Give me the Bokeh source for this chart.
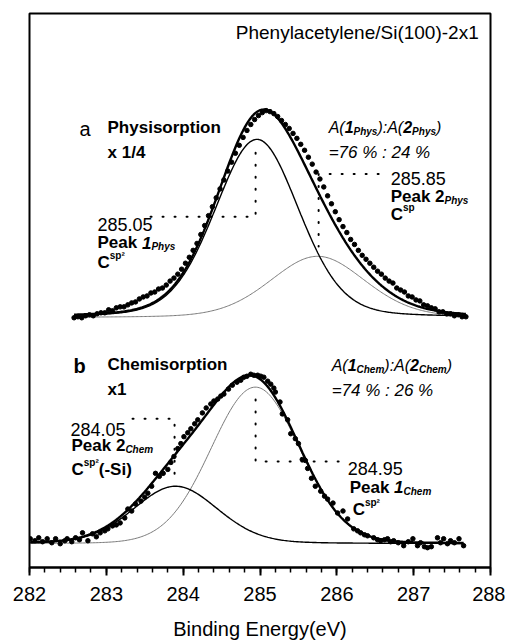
import numpy as np
from bokeh.plotting import figure
from bokeh.models import Range1d, Label, FixedTicker
from bokeh.embed import file_html
from bokeh.resources import INLINE

# ---------------- data ----------------
# Panel a: Physisorption (x 1/4), intensity above its own baseline (arb. units)
a_be = [282.58, 282.63, 282.68, 282.73, 282.78, 282.83, 282.88, 282.93, 282.98, 283.03,
        283.08, 283.13, 283.18, 283.23, 283.28, 283.33, 283.38, 283.43, 283.48, 283.53,
        283.58, 283.63, 283.68, 283.73, 283.78, 283.83, 283.88, 283.93, 283.98, 284.03,
        284.08, 284.13, 284.18, 284.23, 284.28, 284.33, 284.38, 284.43, 284.48, 284.53,
        284.58, 284.63, 284.68, 284.73, 284.78, 284.83, 284.88, 284.93, 284.98, 285.03,
        285.08, 285.13, 285.18, 285.23, 285.28, 285.33, 285.38, 285.43, 285.48, 285.53,
        285.58, 285.63, 285.68, 285.73, 285.78, 285.83, 285.88, 285.93, 285.98, 286.03,
        286.08, 286.13, 286.18, 286.23, 286.28, 286.33, 286.38, 286.43, 286.48, 286.53,
        286.58, 286.63, 286.68, 286.73, 286.78, 286.83, 286.88, 286.93, 286.98, 287.03,
        287.08, 287.13, 287.18, 287.23, 287.28, 287.33, 287.38, 287.43, 287.48, 287.53,
        287.58, 287.63, 287.68]
a_cnt = [0, 1, 0, 2, 3, 2, 4, 5, 5, 8,
         7, 10, 11, 11, 13, 15, 16, 19, 21, 22,
         25, 26, 29, 30, 33, 37, 40, 44, 49, 55,
         61, 68, 75, 84, 93, 103, 112, 121, 130, 139,
         148, 157, 166, 174, 182, 189, 195, 200, 204, 207,
         209, 208, 206, 203, 199, 195, 191, 186, 181, 175,
         169, 162, 155, 147, 140, 132, 123, 115, 107, 99,
         92, 86, 79, 74, 68, 63, 59, 55, 51, 47,
         44, 40, 37, 35, 30, 28, 26, 22, 21, 18,
         17, 13, 12, 10, 9, 6, 6, 4, 4, 2,
         3, 1, 1]

# Panel b: Chemisorption (x1)
b_be = [282.01, 282.07, 282.12, 282.17, 282.23, 282.29, 282.34, 282.40, 282.46, 282.49,
        282.55, 282.60, 282.65, 282.69, 282.76, 282.82, 282.87, 282.92, 282.98, 283.02,
        283.08, 283.13, 283.18, 283.24, 283.28, 283.33, 283.38, 283.45, 283.50, 283.54,
        283.59, 283.64, 283.69, 283.74, 283.80, 283.84, 283.88, 283.93, 283.97, 284.01,
        284.06, 284.10, 284.15, 284.19, 284.25, 284.30, 284.36, 284.40, 284.45, 284.49,
        284.53, 284.59, 284.64, 284.70, 284.75, 284.79, 284.83, 284.88, 284.92, 284.97,
        285.01, 285.05, 285.10, 285.14, 285.18, 285.20, 285.26, 285.29, 285.36, 285.40,
        285.46, 285.50, 285.55, 285.59, 285.62, 285.67, 285.72, 285.79, 285.84, 285.88,
        285.95, 286.01, 286.08, 286.14, 286.22, 286.27, 286.31, 286.36, 286.40, 286.48,
        286.53, 286.57, 286.62, 286.66, 286.70, 286.74, 286.80, 286.87, 286.93, 286.99,
        287.05, 287.09, 287.14, 287.18, 287.23, 287.31, 287.35, 287.39, 287.44, 287.48,
        287.53, 287.59, 287.65]
b_cnt = [5, 3, 6, 2, 5, 1, 5, 0, 3, 5,
         2, 6, 4, 11, 3, 10, 7, 11, 13, 15,
         18, 19, 21, 26, 35, 33, 40, 43, 47, 51,
         58, 71, 68, 71, 75, 82, 88, 96, 101, 108,
         112, 116, 121, 125, 132, 137, 141, 144, 146, 149,
         151, 156, 160, 163, 165, 168, 169, 171, 170, 170,
         169, 168, 164, 161, 157, 153, 143, 131, 125, 111,
         106, 101, 85, 84, 76, 66, 58, 53, 48, 45,
         41, 31, 33, 25, 15, 13, 11, 9, 8, 6,
         4, 3, 4, 5, 2, 3, 1, -2, 2, 5,
         -2, 1, -3, -4, -3, 6, 1, 5, 0, 3,
         1, 5, -2]

# vertical offsets of the two stacked spectra
a_offset = 252
b_offset = 24

# fitted components: (center eV, height, sigma eV, lorentz fraction)
a_peak1 = (284.96, 180, 0.55, 0.2)   # Peak 1 Phys  (black thin)
a_peak2 = (285.75, 62, 0.62, 0.2)    # Peak 2 Phys  (grey)
b_peak1 = (284.94, 158, 0.58, 0.05)  # Peak 1 Chem  (grey)
b_peak2 = (283.90, 58, 0.55, 0.15)   # Peak 2 Chem  (black thin)

x_ticks = [282, 283, 284, 285, 286, 287, 288]

FONT = "Liberation Sans"

# ---------------- figure ----------------
p = figure(width=505, height=642, output_backend="svg", toolbar_location=None,
           x_range=Range1d(282, 288), y_range=Range1d(0, 559),
           min_border_left=29, min_border_right=15, min_border_top=13, min_border_bottom=70)
p.background_fill_color = "white"
p.border_fill_color = "white"
p.outline_line_color = "black"
p.outline_line_width = 2
p.outline_line_alpha = 1
p.xgrid.visible = False
p.ygrid.visible = False
p.yaxis.visible = False

minor = [round(282 + 0.2 * i, 1) for i in range(31)]
p.xaxis.ticker = FixedTicker(ticks=x_ticks, minor_ticks=minor)
p.xaxis.axis_line_width = 2
p.xaxis.major_tick_line_width = 2
p.xaxis.minor_tick_line_width = 1.5
p.xaxis.major_tick_out = 8
p.xaxis.major_tick_in = 0
p.xaxis.minor_tick_out = 5
p.xaxis.minor_tick_in = 0
p.xaxis.major_label_text_font = FONT
p.xaxis.major_label_text_font_size = "20px"
p.xaxis.major_label_text_color = "black"
p.xaxis.major_label_standoff = 11
p.xaxis.axis_label = "Binding Energy(eV)"
p.xaxis.axis_label_text_font = FONT
p.xaxis.axis_label_text_font_size = "20px"
p.xaxis.axis_label_text_font_style = "normal"
p.xaxis.axis_label_text_color = "black"
p.xaxis.axis_label_standoff = 14


def comp(xs, pk):
    c, h, s, eta = pk
    hw = s * np.sqrt(2 * np.log(2))
    g = np.exp(-0.5 * ((xs - c) / s) ** 2)
    lz = 1.0 / (1.0 + ((xs - c) / hw) ** 2)
    return h * ((1 - eta) * g + eta * lz)


xa = np.linspace(min(a_be), max(a_be), 300)
a1 = comp(xa, a_peak1)
a2 = comp(xa, a_peak2)
p.line(xa, a_offset + a2, line_color="#7a7a7a", line_width=1)
p.line(xa, a_offset + a1, line_color="black", line_width=1.4)
p.line(xa, a_offset + a1 + a2, line_color="black", line_width=2.4)
p.scatter(a_be, [a_offset + v for v in a_cnt], size=4.5, color="black")

xb = np.linspace(min(b_be), max(b_be), 300)
b1 = comp(xb, b_peak1)
b2 = comp(xb, b_peak2)
p.line(xb, b_offset + b1, line_color="#7a7a7a", line_width=1)
p.line(xb, b_offset + b2, line_color="black", line_width=1.4)
p.line(xb, b_offset + b1 + b2, line_color="black", line_width=2.4)
p.scatter(b_be, [b_offset + v for v in b_cnt], size=4.5, color="black")


# ---------------- annotations ----------------
def ex(px):
    return 282 + (px - 29) / 76.8


def ey(py):
    return 572 - py


def leader(pts):
    p.line([ex(q[0]) for q in pts], [ey(q[1]) for q in pts], line_color="black",
           line_width=2, line_dash="1 11", line_cap="round")


leader([(150, 218), (255, 218), (255, 148)])
leader([(378, 175), (318, 175), (318, 248)])
leader([(132, 422), (174, 422), (174, 478)])
leader([(338, 465), (255, 465), (255, 402)])

W_N = {'0': .556, '1': .556, '2': .556, '3': .556, '4': .556, '5': .556, '6': .556,
       '7': .556, '8': .556, '9': .556, '.': .278, ' ': .278, '%': .889, ':': .278,
       '=': .584, 'A': .667, '(': .333, ')': .333, '-': .333, 'S': .667, 'i': .222,
       'C': .722, 's': .5, 'p': .556, 'h': .556, 'y': .5, 'e': .556, 'm': .833, 'P': .667,
       'a': .556, 'k': .5, '/': .278, 'x': .5}
W_B = {'P': .667, 'e': .556, 'a': .556, 'k': .556, ' ': .278, 'C': .722, 's': .556,
       'p': .611, 'h': .611, 'y': .556, 'm': .889, '(': .333, ')': .333, '-': .333,
       'S': .667, 'i': .278, '\u00b2': .333, 'A': .722, '1': .556, '2': .556, ':': .333}


def tw(s, size, bold):
    tbl = W_B if bold else W_N
    return sum(tbl.get(ch, 0.556) for ch in s) * size


def rich(px, py, segs, main=17):
    off = 0.0
    base = py + 0.36 * main
    for t, size, style, dy in segs:
        p.add_layout(Label(x=ex(px), y=ey(base), x_offset=off, y_offset=dy, text=t,
                           text_font=FONT, text_font_size=f"{size}px",
                           text_font_style=style, text_baseline="alphabetic",
                           text_align="left", text_color="black"))
        off += tw(t, size, "bold" in style)


p.add_layout(Label(x=ex(478), y=ey(32), text="Phenylacetylene/Si(100)-2x1", text_font=FONT,
                   text_font_size="19px", text_align="right", text_baseline="middle",
                   text_color="black"))

# panel a
rich(79, 122, [("a", 20, "normal", 0)], main=20)
rich(107, 122, [("Physisorption", 17, "bold", 0)])
rich(107, 147, [("x 1/4", 17, "bold", 0)])
rich(328, 122, [("A(", 16, "italic", 0), ("1", 16, "bold italic", 0), ("Phys", 10, "bold italic", -4),
                ("):A(", 16, "italic", 0), ("2", 16, "bold italic", 0), ("Phys", 10, "bold italic", -4),
                (")", 16, "italic", 0)], main=16)
rich(328, 147, [("=76 % : 24 %", 17, "italic", 0)])
rich(390, 173, [("285.85", 18, "normal", 0)], main=18)
rich(390, 192, [("Peak 2", 17, "bold", 0), ("Phys", 10, "bold italic", -4)])
rich(390, 210, [("C", 17, "bold", 0), ("sp", 10, "bold", 7)])
rich(97, 219, [("285.05", 18, "normal", 0)], main=18)
rich(97, 238, [("Peak ", 17, "bold", 0), ("1", 17, "bold italic", 0), ("Phys", 10, "bold italic", -4)])
rich(97, 258, [("C", 17, "bold", 0), ("sp\u00b2", 10, "bold", 7)])

# panel b
rich(73, 361, [("b", 20, "bold", 0)], main=20)
rich(107, 361, [("Chemisorption", 17, "bold", 0)])
rich(107, 386, [("x1", 17, "bold", 0)])
rich(331, 362, [("A(", 16, "italic", 0), ("1", 16, "bold italic", 0), ("Chem", 10, "bold italic", -4),
                ("):A(", 16, "italic", 0), ("2", 16, "bold italic", 0), ("Chem", 10, "bold italic", -4),
                (")", 16, "italic", 0)], main=16)
rich(331, 387, [("=74 %  :  26 %", 17, "italic", 0)])
rich(70, 426, [("284.05", 18, "normal", 0)], main=18)
rich(71, 443, [("Peak 2", 17, "bold", 0), ("Chem", 10, "bold italic", -4)])
rich(71, 467, [("C", 17, "bold", 0), ("sp\u00b2", 10, "bold", 7), ("(-Si)", 17, "bold", 0)])
rich(347, 466, [("284.95", 18, "normal", 0)], main=18)
rich(349, 485, [("Peak ", 17, "bold", 0), ("1", 17, "bold italic", 0), ("Chem", 10, "bold italic", -4)])
rich(352, 507, [("C", 17, "bold", 0), ("sp\u00b2", 10, "bold", 7)])

open("out.html", "w").write(file_html(p, INLINE))
